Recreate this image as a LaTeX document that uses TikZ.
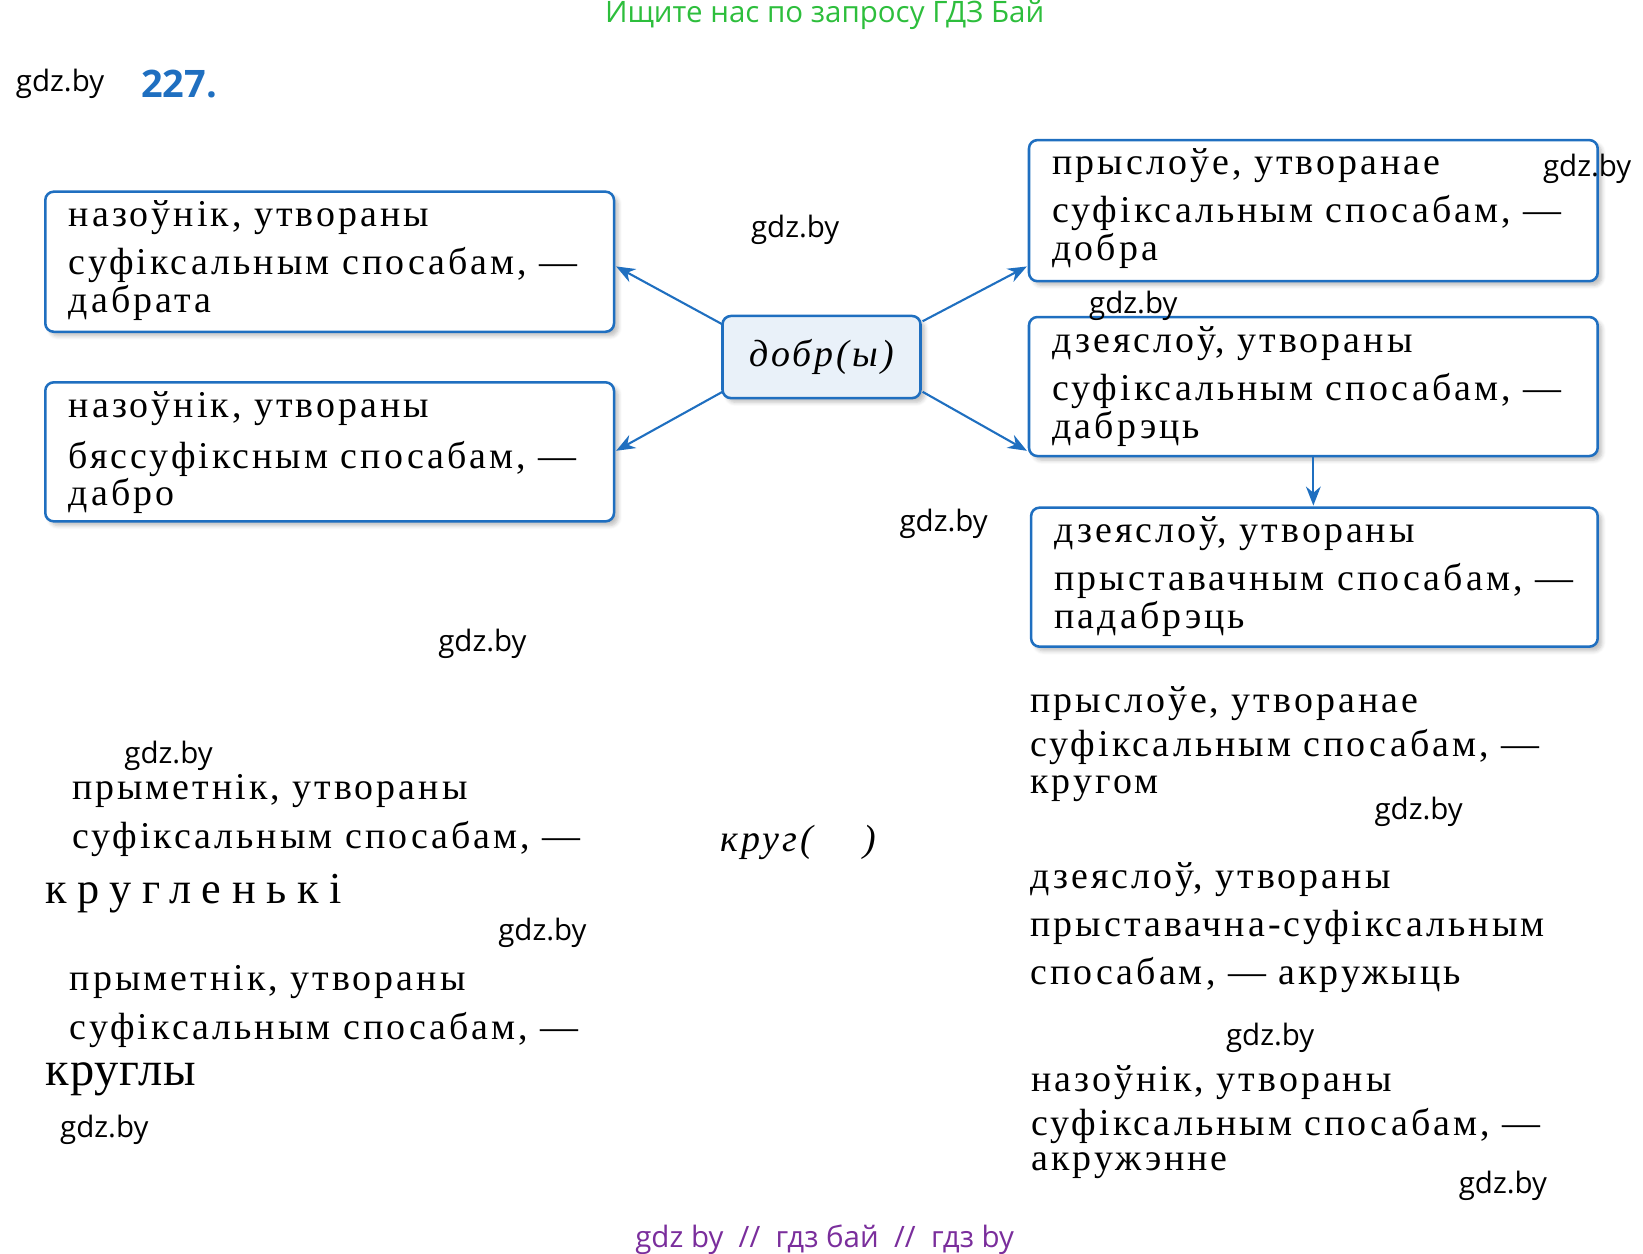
\documentclass[tikz,border=0pt]{standalone}
\usepackage{fontspec}
\setmainfont{Liberation Serif}[LetterSpace=8]
\newfontfamily\wm{Open Sans}
\usetikzlibrary{arrows.meta,shadows.blur}
\definecolor{bl}{HTML}{1F6FC0}
\definecolor{gr}{HTML}{2DBE3C}
\definecolor{pu}{HTML}{7A2E9C}
\tikzset{
 bx/.style={draw=bl,line width=1.2pt,rounded corners=4pt,fill=white,blur shadow={shadow blur steps=5,shadow xshift=2pt,shadow yshift=-2pt,shadow opacity=25}},
 tx/.style={anchor=west,inner sep=0pt,font=\fontsize{18}{20}\selectfont},
 wmk/.style={inner sep=0pt,font=\wm\fontsize{14}{16}\selectfont},
 ar/.style={draw=bl,line width=1pt,-{Stealth[length=9pt,width=7pt]}}
}
\begin{document}
\begin{tikzpicture}[x=0.5pt,y=-0.5pt]
\useasboundingbox (0,0) rectangle (1560,1190);
\node[inner sep=0pt,text=gr,font=\wm\fontsize{14}{16}\selectfont] (t) at (783,14) {Ищите нас по запросу ГДЗ Бай};
\node[wmk] (w0) at (57,80) {gdz.by};
\node[inner sep=0pt,text=bl,font=\wm\bfseries\fontsize{18}{20}\selectfont] (n) at (170,80) {227.};
% boxes
\path[bx] (43,182) rectangle (583,315);
\path[bx] (43,363) rectangle (583,495);
\path[bx] (977,133) rectangle (1517,267);
\path[bx] (977,301) rectangle (1517,433);
\path[bx] (979,482) rectangle (1517,614);
\path[bx,fill=bl!10] (686,300) rectangle (874,378);
\coordinate (c) at (780,339);
\node[inner sep=0pt,font=\itshape\fontsize{18}{20}\selectfont] (cw) at (c) {добр(ы)};
\node[tx] (l1a) at (65,207) {назоўнік, утвораны};
\node[tx] (l1b) at (65,252) {суфіксальным спосабам, —};
\node[tx] (l1c) at (65,288) {дабрата};
\node[tx] (l2a) at (65,388) {назоўнік, утвораны};
\node[tx] (l2b) at (65,436) {бяссуфіксным спосабам, —};
\node[tx] (l2c) at (65,471) {дабро};
\node[tx] (r1a) at (999,157) {прыслоўе, утворанае};
\node[tx] (r1b) at (999,202) {суфіксальным спосабам, —};
\node[tx] (r1c) at (999,238) {добра};
\node[tx] (r2a) at (999,326) {дзеяслоў, утвораны};
\node[tx] (r2b) at (999,371) {суфіксальным спосабам, —};
\node[tx] (r2c) at (999,407) {дабрэць};
\node[tx] (r3a) at (1001,507) {дзеяслоў, утвораны};
\node[tx] (r3b) at (1001,552) {прыставачным спосабам, —};
\node[tx] (r3c) at (1001,588) {падабрэць};
% arrows
\coordinate (a1s) at (686,308); \coordinate (a1e) at (585,253);
\coordinate (a2s) at (686,372); \coordinate (a2e) at (585,428);
\coordinate (a3s) at (876,305); \coordinate (a3e) at (975,253);
\coordinate (a4s) at (876,372); \coordinate (a4e) at (975,428);
\coordinate (a5s) at (1247,433); \coordinate (a5e) at (1247,480);
\draw[ar] (a1s) -- (a1e);
\draw[ar] (a2s) -- (a2e);
\draw[ar] (a3s) -- (a3e);
\draw[ar] (a4s) -- (a4e);
\draw[ar] (a5s) -- (a5e);
% bottom part
\node[tx] (b1a) at (68,751) {прыметнік, утвораны};
\node[tx] (b1b) at (68,797) {суфіксальным спосабам, —};
\node[tx,font=\addfontfeature{LetterSpace=24}\fontsize{21}{24}\selectfont] (b1c) at (43,848) {кругленькі};
\node[tx] (b2a) at (66,932) {прыметнік, утвораны};
\node[tx] (b2b) at (66,978) {суфіксальным спосабам, —};
\node[tx,font=\addfontfeature{LetterSpace=2}\fontsize{23}{26}\selectfont] (b2c) at (43,1025) {круглы};
\node[inner sep=0pt,font=\itshape\fontsize{18}{20}\selectfont] (kr) at (758,800) {круг(\quad\ )};
\node[tx] (c1a) at (978,668) {прыслоўе, утворанае};
\node[tx] (c1b) at (978,709) {суфіксальным спосабам, —};
\node[tx] (c1c) at (978,749) {кругом};
\node[tx] (c2a) at (978,835) {дзеяслоў, утвораны};
\node[tx] (c2b) at (978,881) {прыставачна-суфіксальным};
\node[tx] (c2c) at (978,926) {спосабам, — акружыць};
\node[tx] (c3a) at (979,1028) {назоўнік, утвораны};
\node[tx] (c3b) at (979,1069) {суфіксальным спосабам, —};
\node[tx] (c3c) at (979,1107) {акружэнне};
% watermarks
\node[wmk] (w1) at (755,218) {gdz.by};
\node[wmk] (w2) at (1507,160) {gdz.by};
\node[wmk] (w3) at (1076,290) {gdz.by};
\node[wmk] (w4) at (896,497) {gdz.by};
\node[wmk] (w5) at (458,611) {gdz.by};
\node[wmk] (w6) at (160,718) {gdz.by};
\node[wmk] (w7) at (1347,771) {gdz.by};
\node[wmk] (w8) at (515,886) {gdz.by};
\node[wmk] (w9) at (1206,985) {gdz.by};
\node[wmk] (w10) at (99,1073) {gdz.by};
\node[wmk] (w11) at (1427,1126) {gdz.by};
\node[inner sep=0pt,text=pu,font=\wm\fontsize{14}{16}\selectfont] (f) at (783,1177) {gdz by \ // \ гдз бай \ // \ гдз by};
\end{tikzpicture}
\end{document}
